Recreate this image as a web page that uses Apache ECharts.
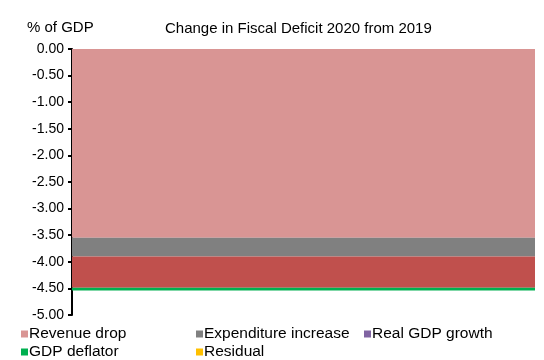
<!DOCTYPE html>
<html>
<head>
<meta charset="utf-8">
<script src="https://cdn.jsdelivr.net/npm/echarts@6/dist/echarts.min.js"></script>
<style>
html,body{margin:0;padding:0;background:#fff;}
#chart{width:544px;height:360px;}
</style>
</head>
<body>
<div id="chart"></div>
<script>
// Change in fiscal deficit, 2020 vs 2019 (% of GDP)
const categories = ['2020'];
const revenueDrop = [-3.55];
const expenditureIncrease = [-0.35];
const otherFactors = [-0.59];
const realGdpGrowth = [0];
const gdpDeflator = [-0.05];
const residual = [0];
const yTicks = { min: -5, max: 0, step: 0.5 };

const colors = {
  revenue: '#D99594',
  expenditure: '#808080',
  other: '#C0504D',
  realGdp: '#8064A2',
  deflator: '#00B050',
  residual: '#FFC000'
};

const font = 'Liberation Sans, Arial, sans-serif';

function bar(name, data, color) {
  return {
    name: name,
    type: 'bar',
    stack: 'total',
    data: data,
    barWidth: '100%',
    itemStyle: { color: color },
    emphasis: { disabled: true }
  };
}

function legendItem(name, left, top) {
  return {
    data: [name],
    left: left,
    top: top,
    icon: 'rect',
    itemWidth: 7,
    itemHeight: 7,
    itemGap: 0,
    padding: 0,
    textStyle: { fontFamily: font, fontSize: 15.5, color: '#000', padding: [0, 0, 0, -4] },
    selectedMode: false
  };
}

const chart = echarts.init(document.getElementById('chart'));
chart.setOption({
  animation: false,
  backgroundColor: '#fff',
  graphic: [
    { type: 'text', left: 27, top: 20, style: { text: '% of GDP', font: '15px ' + font, fill: '#000' } },
    { type: 'text', left: 165, top: 21, style: { text: 'Change in Fiscal Deficit 2020 from 2019', font: '15px ' + font, fill: '#000' } }
  ],
  grid: { left: 72, right: 9, top: 49, bottom: 45 },
  legend: [
    legendItem('Revenue drop', 21, 326),
    legendItem('Expenditure increase', 196, 326),
    legendItem('Real GDP growth', 364, 326),
    legendItem('GDP deflator', 21, 344),
    legendItem('Residual', 196, 344)
  ],
  xAxis: {
    type: 'category',
    data: categories,
    show: false
  },
  yAxis: {
    type: 'value',
    min: yTicks.min,
    max: yTicks.max,
    interval: yTicks.step,
    axisLine: { show: true, lineStyle: { color: '#000', width: 2 } },
    axisTick: { show: true, inside: false, length: 4, lineStyle: { color: '#000', width: 2 } },
    splitLine: { show: false },
    axisLabel: {
      fontFamily: font,
      fontSize: 14,
      color: '#000',
      margin: 8,
      formatter: v => v.toFixed(2)
    }
  },
  series: [
    bar('Revenue drop', revenueDrop, colors.revenue),
    bar('Expenditure increase', expenditureIncrease, colors.expenditure),
    bar('Other', otherFactors, colors.other),
    bar('Real GDP growth', realGdpGrowth, colors.realGdp),
    bar('GDP deflator', gdpDeflator, colors.deflator),
    bar('Residual', residual, colors.residual)
  ]
});
</script>
</body>
</html>
